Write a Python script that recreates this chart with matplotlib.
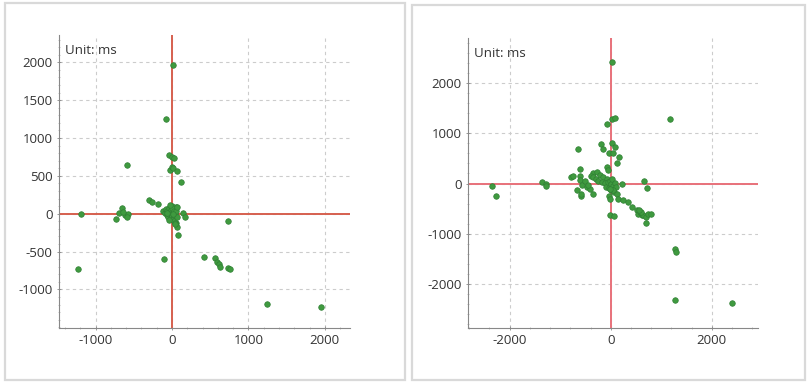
import matplotlib
matplotlib.use("Agg")
from matplotlib import pyplot as plt
from matplotlib.patches import Rectangle
from matplotlib.ticker import MultipleLocator

plt.rcParams["font.family"] = ["Open Sans", "DejaVu Sans"]
plt.rcParams["axes.unicode_minus"] = False

# left panel (unit: ms)
left_x = [17, -74, -44, 0, 30, -26, 4, 17, 70, 118, -585, -1197, -1227,
          -301, -258, -179, 52, 148, 175, 52, 61, 83,
          -733, -699, -651, -616, -572, -590, -640,
          729, -100, 415, 563, 585, 611, 629, 729, 760, 1240, 1948,
          -120, -95, -80, -70, -60, -50, -40, -35, -30, -20, -15, -10, -5, 0,
          5, 10, 15, 20, 25, 30, 40, 50, 60, 70, -45, -25, 35, 45, -60, 10]
left_y = [1960, 1255, 770, 745, 740, 577, 620, 600, 564, 419, 639, -4, -727,
          181, 154, 123, 93, 4, -40, -119, -180, -286,
          -66, 4, 70, -18, -9, -48, 20,
          -97, -599, -568, -590, -634, -661, -700, -714, -727, -1198, -1229,
          40, 10, 60, -20, 30, -40, 80, 0, 20, -60, 50, -10, 100, -30,
          70, 10, -70, 40, -100, -20, 0, 30, -50, 90, -80, 120, -120, -140, 5, -5]
left_xticks = [-1000, 0, 1000, 2000]
left_yticks = [-1000, -500, 0, 500, 1000, 1500, 2000]

# right panel (unit: ms)
right_x = [33, 1174, 33, 85, -66, -643, -190, -144, 26, 85, -26, 52, 157, 118,
           -79, -603, -2341, -2275, -1357, -1279, -1279, -793,
           -669, -590, -605, -750, -618, -572, -592, -474, -408, -342,
           -342, -276, -210, -145, -79, -46, -400, -360, -300, -250, -180, -120,
           -100, -60, -30, -10, 0, 10, 20, 40, 60, 80, 100, 217, 39, -40, -20,
           118, 151, 250, 349, 414, 513, 544, 579, 610, 645, 695, 689, 743, 787,
           600, 560, 662, 721, -20, -13, 66, 1272, 1292, 1272, 2400, -500, -450]
right_y = [2427, 1287, 1287, 1307, 1187, 687, 780, 687, 800, 733, 600, 600, 533, 400,
           333, 280, -40, -240, 27, 0, -40, 127,
           -133, -240, 147, 147, 67, -33, -200, -67, -100, -200,
           200, 233, 167, 133, 100, 267, 150, 120, 90, 60, 40, 20,
           -60, 30, -80, 60, 0, -120, 90, -40, -160, 20, -60, 0, -133, -250, -100,
           -200, -300, -333, -367, -467, -533, -600, -567, -633, -633, -667, -780, -600, -600,
           -560, -520, 47, -80, -307, -633, -647, -1300, -1373, -2313, -2373, 60, -20]
right_xticks = [-2000, 0, 2000]
right_yticks = [-2000, -1000, 0, 1000, 2000]

panels = [
    dict(x=left_x, y=left_y, xlim=(-1480, 2330), ylim=(-1510, 2360),
         xt=left_xticks, yt=left_yticks, minor=(200, 100), line="#d6604f",
         pos=[0.0731, 0.1414, 0.3606, 0.767], box=(5, 3, 400, 377)),
    dict(x=right_x, y=right_y, xlim=(-2830, 2910), ylim=(-2880, 2900),
         xt=right_xticks, yt=right_yticks, minor=(400, 200), line="#e8717a",
         pos=[0.5796, 0.1414, 0.3594, 0.759], box=(412, 5, 393, 375)),
]

W, H = 807, 382
fig = plt.figure(figsize=(W / 100, H / 100), dpi=100)

for p in panels:
    bx, by, bw, bh = p["box"]
    fig.patches.append(Rectangle((bx / W, 1 - (by + bh) / H), bw / W, bh / H,
                                 transform=fig.transFigure, fill=False,
                                 edgecolor="#d9d9d9", linewidth=1.6))
    ax = fig.add_axes(p["pos"])
    ax.set_xlim(*p["xlim"])
    ax.set_ylim(*p["ylim"])
    ax.set_xticks(p["xt"])
    ax.set_yticks(p["yt"])
    ax.xaxis.set_minor_locator(MultipleLocator(p["minor"][0]))
    ax.yaxis.set_minor_locator(MultipleLocator(p["minor"][1]))
    ax.grid(True, which="major", color="#cccccc", linestyle=(0, (3, 3)), linewidth=0.8)
    ax.set_axisbelow(True)
    for s in ["top", "right"]:
        ax.spines[s].set_visible(False)
    for s in ["left", "bottom"]:
        ax.spines[s].set_color("#888888")
        ax.spines[s].set_linewidth(0.8)
    ax.tick_params(which="major", direction="inout", length=3, width=0.6,
                   color="#888888", labelsize=9.5, labelcolor="#333333", pad=3)
    ax.tick_params(which="minor", direction="inout", length=2, width=0.5, color="#aaaaaa")
    ax.axhline(0, color=p["line"], linewidth=1.4, zorder=2)
    ax.axvline(0, color=p["line"], linewidth=1.4, zorder=2)
    ax.scatter(p["x"], p["y"], s=16, c="#3f9a3f", edgecolors="#2f7f34",
               linewidths=0.5, zorder=3)
    ax.text(0.02, 0.97, "Unit: ms", transform=ax.transAxes, ha="left", va="top",
            fontsize=9.5, color="#333333")

fig.savefig("out.png", dpi=100)
